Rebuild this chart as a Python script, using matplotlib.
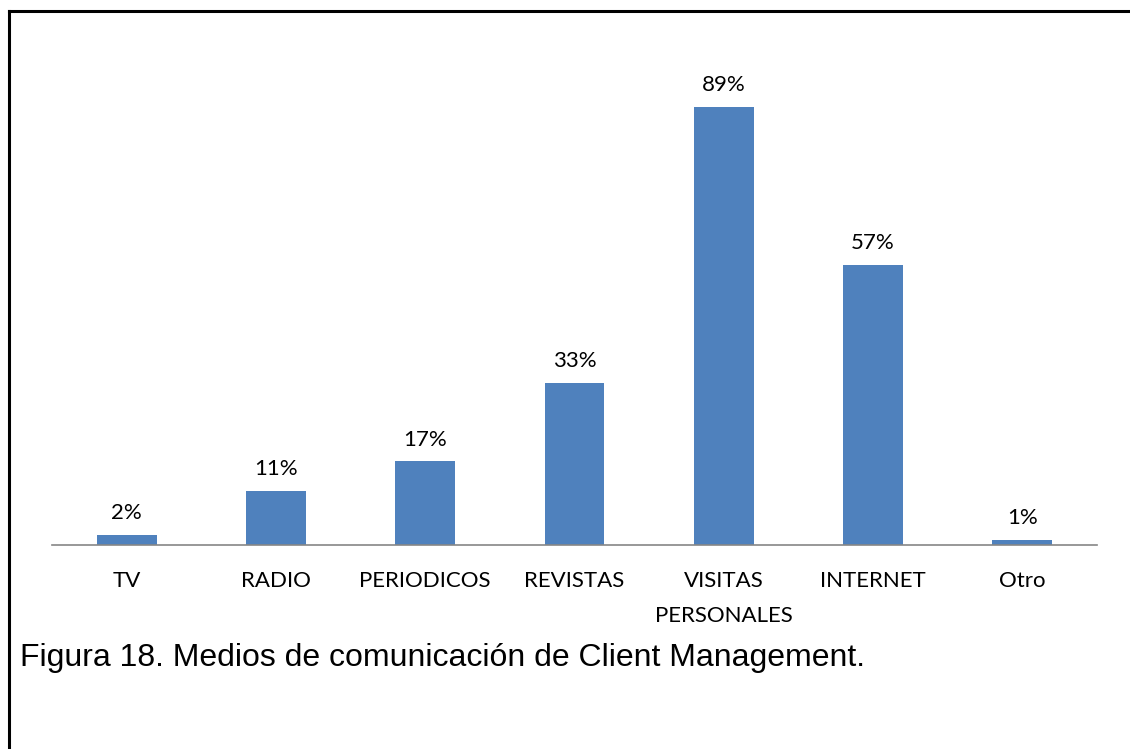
import matplotlib
matplotlib.use("Agg")
import matplotlib.pyplot as plt
from matplotlib.lines import Line2D

categories = ["TV", "RADIO", "PERIODICOS", "REVISTAS", "VISITAS\nPERSONALES", "INTERNET", "Otro"]
values = [2, 11, 17, 33, 89, 57, 1]
caption = "Figura 18. Medios de comunicación de Client Management."

W, H = 1130, 749
fig = plt.figure(figsize=(W / 100, H / 100), dpi=100)

# plot area in pixel terms: x 52..1097, baseline at y=545
ax = fig.add_axes([52 / W, (H - 545) / H, (1097 - 52) / W, 492 / H])
x = range(len(categories))
ax.bar(x, values, width=0.4, color="#4F81BD")
ax.set_xlim(-0.5, len(categories) - 0.5)
ax.set_ylim(0, 100)

for xi, v in zip(x, values):
    ax.annotate(f"{v}%", (xi, v), xytext=(0, 8.5), textcoords="offset points",
                ha="center", va="bottom", fontsize=16, family="Lato")

ax.set_xticks(list(x))
ax.set_xticklabels(categories, fontsize=16, family="Lato", linespacing=1.9)
ax.tick_params(axis="x", length=0, pad=19)
ax.set_yticks([])
for s in ["top", "right", "left"]:
    ax.spines[s].set_visible(False)
ax.spines["bottom"].set_color("#868686")
ax.spines["bottom"].set_linewidth(1.2)

# frame lines along top and left
fig.add_artist(Line2D([8.5 / W, 8.5 / W], [0, (H - 10.5) / H], color="black", lw=2.2))
fig.add_artist(Line2D([8.5 / W, 1], [(H - 10.5) / H, (H - 10.5) / H], color="black", lw=2.2))

fig.text(20 / W, (H - 658) / H, caption, fontsize=23, family="Liberation Sans",
         ha="left", va="center")

fig.savefig("out.png", dpi=100)
